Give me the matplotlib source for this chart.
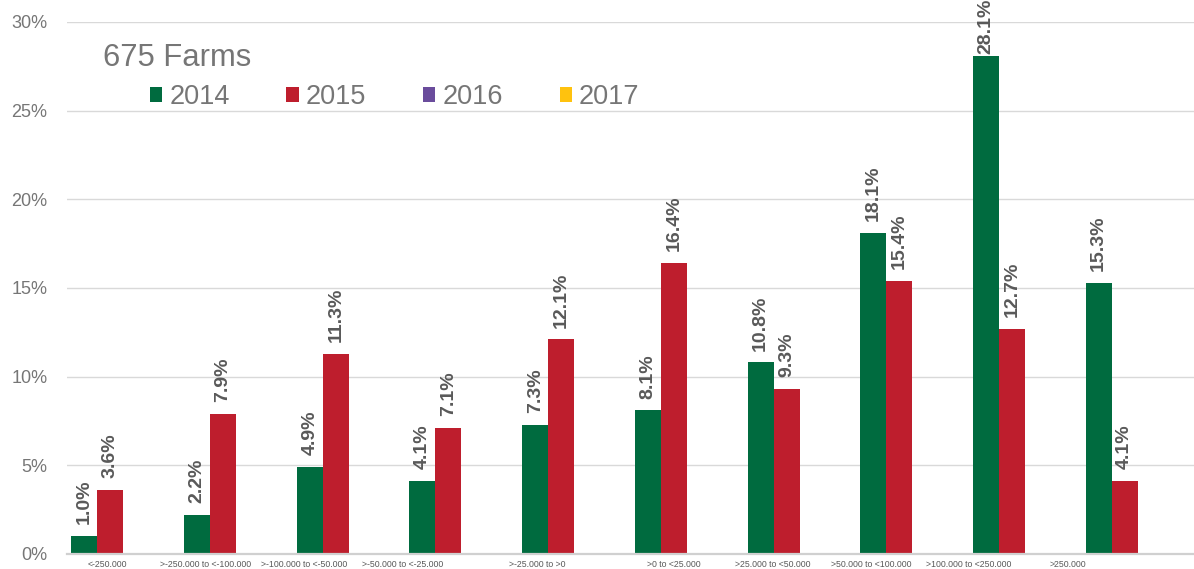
import matplotlib
matplotlib.use("Agg")
import matplotlib.pyplot as plt
import matplotlib.transforms as mtransforms
from matplotlib.patches import Patch
import numpy as np

categories = ["<-250.000", ">-250.000 to <-100.000", ">-100.000 to <-50.000",
              ">-50.000 to <-25.000", ">-25.000 to >0", ">0 to <25.000",
              ">25.000 to <50.000", ">50.000 to <100.000", ">100.000 to <250.000",
              ">250.000"]
series_names = ["2014", "2015", "2016", "2017"]
values_2014 = [1.0, 2.2, 4.9, 4.1, 7.3, 8.1, 10.8, 18.1, 28.1, 15.3]
values_2015 = [3.6, 7.9, 11.3, 7.1, 12.1, 16.4, 9.3, 15.4, 12.7, 4.1]
values_2016 = []
values_2017 = []
title_text = "675 Farms"

colors = ["#006B3F", "#BE1E2D", "#6A4C9C", "#FFC20E"]
label_color = "#595959"
text_gray = "#767676"

plt.rcParams['font.family'] = ['Liberation Sans', 'DejaVu Sans']

fig = plt.figure(figsize=(11.94, 5.69), dpi=100)
ax = fig.add_axes([67/1194, 15/569, 1127/1194, 532/569])

x = np.arange(len(categories))
width = 0.2307
all_series = [values_2014, values_2015, values_2016, values_2017]
labels = []
for k, vals in enumerate(all_series):
    if len(vals) == 0:
        continue
    offs = (k - 1.5) * width
    bars = ax.bar(x[:len(vals)] + offs, np.array(vals) / 100.0, width,
                  color=colors[k], zorder=3)
    for b, v in zip(bars, vals):
        t = ax.annotate(f"{v:.1f}%", (b.get_x() + b.get_width() / 2, b.get_height()),
                        xytext=(0, 8.5), textcoords="offset points",
                        rotation=90, ha="center", va="bottom",
                        fontsize=14, fontweight="bold", color=label_color,
                        annotation_clip=False, clip_on=False)
        labels.append(t)

ax.set_xlim(-0.5, len(categories) - 0.5)
ax.set_ylim(0, 0.30)
ax.set_yticks(np.arange(0, 0.31, 0.05))
ax.set_yticklabels([f"{int(round(t*100))}%" for t in np.arange(0, 0.31, 0.05)])
ax.tick_params(axis="y", length=0, pad=14, labelsize=13, labelcolor=text_gray)
ax.yaxis.grid(True, color="#D9D9D9", linewidth=1.0, zorder=0)
ax.set_axisbelow(True)
for s in ["top", "right", "left"]:
    ax.spines[s].set_visible(False)
ax.spines["bottom"].set_color("#D0D0D0")
ax.spines["bottom"].set_linewidth(1.6)
ax.spines["bottom"].set_zorder(4)

ax.set_xticks(x)
ax.set_xticklabels(categories)
ax.tick_params(axis="x", length=0, pad=4, labelsize=6.3, labelcolor=label_color)
# Excel-like label placement offsets (pixels)
label_shift_px = [-16, -30, -45, -59, -37, -13, -27, -41, -56, -70]
for lbl, dx in zip(ax.get_xticklabels(), label_shift_px):
    lbl.set_transform(lbl.get_transform() +
                      mtransforms.ScaledTranslation(dx / 100.0, 0, fig.dpi_scale_trans))

fig.text(103/1194, 1 - 66/569, title_text, fontsize=22.3, color=text_gray,
         ha="left", va="baseline")

handles = [Patch(facecolor=c, edgecolor="none") for c in colors]
fig.legend(handles, series_names, loc="center left",
           bbox_to_anchor=(150/1194, 1 - 97/569), ncol=4, frameon=False,
           fontsize=19.5, labelcolor=text_gray, handlelength=0.45, handleheight=0.45,
           handletextpad=0.26, columnspacing=2.1, borderaxespad=0, borderpad=0)

# keep data labels inside the chart area (as the original chart does)
fig.canvas.draw()
renderer = fig.canvas.get_renderer()
for t in labels:
    bb = t.get_window_extent(renderer)
    if bb.y1 > fig.bbox.height + 1:
        over_px = bb.y1 - (fig.bbox.height + 1)
        ox, oy = t.xyann
        t.xyann = (ox, oy - over_px * 72.0 / fig.dpi)

fig.savefig("out.png", dpi=100)
